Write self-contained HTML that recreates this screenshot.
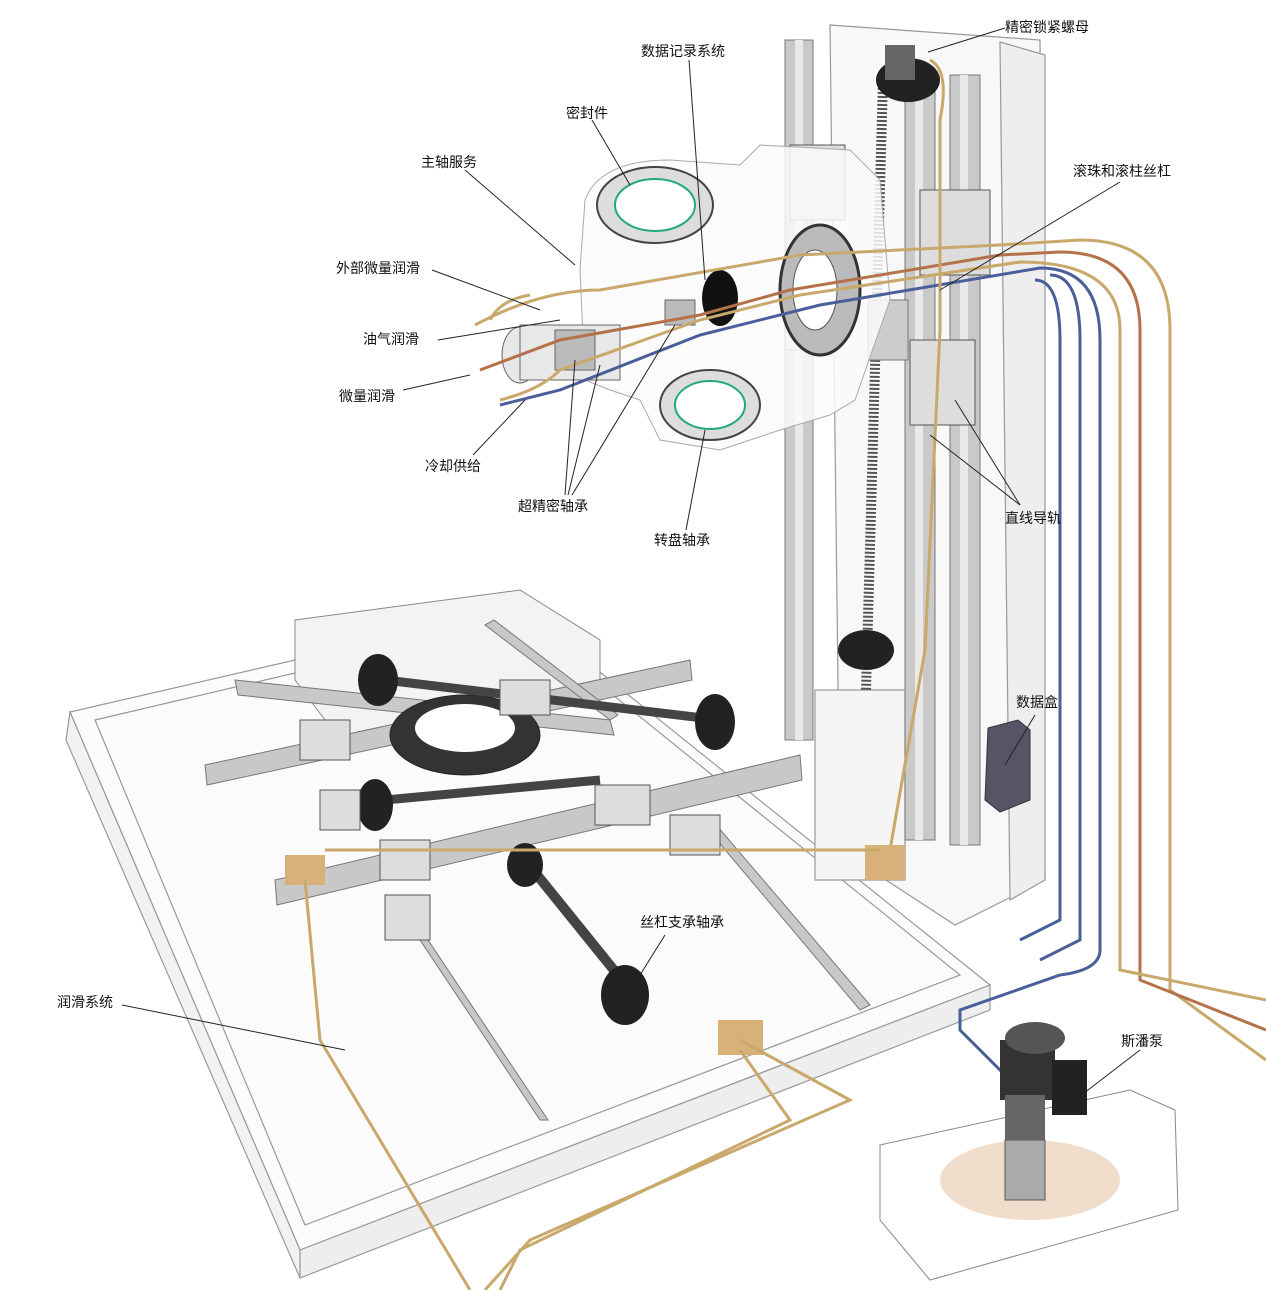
<!DOCTYPE html>
<html><head><meta charset="utf-8"><style>
html,body{margin:0;padding:0;background:#fff;}
svg{display:block;}
text{font-family:"Liberation Sans","Noto Sans CJK SC",sans-serif;font-size:14px;fill:#111;}
</style></head><body>
<svg width="1266" height="1290" viewBox="0 0 1266 1290" xmlns="http://www.w3.org/2000/svg">
<!-- Base plate -->
<g fill="none" stroke="#999" stroke-width="1.2">
<polygon points="70,712 520,608 990,985 300,1250" fill="#fbfbfb"/>
<polygon points="70,712 300,1250 300,1278 66,740" fill="#f2f2f2"/>
<polygon points="300,1250 990,985 990,1010 300,1278" fill="#eee"/>
<polygon points="95,720 520,620 960,975 305,1225"/>
</g>
<!-- Column -->
<g stroke="#999" stroke-width="1.2">
<polygon points="830,25 1040,40 1045,880 955,925 840,850" fill="#f8f8f8"/>
<polygon points="1000,42 1045,55 1045,880 1010,900" fill="#eee"/>
<polygon points="815,690 905,690 905,880 815,880" fill="#f5f5f5"/>
</g>
<!-- Vertical rails -->
<g>
<rect x="785" y="40" width="28" height="700" fill="#c9c9c9" stroke="#777"/>
<rect x="795" y="40" width="8" height="700" fill="#e9e9e9"/>
<rect x="905" y="90" width="30" height="750" fill="#c9c9c9" stroke="#777"/>
<rect x="915" y="90" width="8" height="750" fill="#e9e9e9"/>
<rect x="950" y="75" width="30" height="770" fill="#c9c9c9" stroke="#777"/>
<rect x="960" y="75" width="8" height="770" fill="#e9e9e9"/>
</g>
<!-- ball screw vertical -->
<line x1="883" y1="80" x2="866" y2="690" stroke="#555" stroke-width="10" stroke-dasharray="2 2"/>
<ellipse cx="908" cy="80" rx="32" ry="22" fill="#222"/>
<rect x="885" y="45" width="30" height="35" fill="#666"/>
<ellipse cx="866" cy="650" rx="28" ry="20" fill="#222"/>
<rect x="868" y="300" width="40" height="60" fill="#ccc" stroke="#777"/>
<!-- carriages -->
<g fill="#ddd" stroke="#555">
<rect x="790" y="145" width="55" height="75"/>
<rect x="920" y="190" width="70" height="85"/>
<rect x="910" y="340" width="65" height="85"/>
<rect x="785" y="295" width="35" height="55"/>
</g>
<!-- Head -->
<g stroke="#aaa" fill="#fafafa" fill-opacity="0.85">
<path d="M585,200 Q600,160 670,160 L740,165 L760,145 L850,150 L880,180 L890,300 L855,400 L830,415 L780,430 L720,450 L660,440 L640,400 L610,390 L585,380 L580,270 Z"/>
</g>
<ellipse cx="655" cy="205" rx="58" ry="38" fill="#ddd" stroke="#444" stroke-width="2"/>
<ellipse cx="655" cy="205" rx="40" ry="26" fill="#fff" stroke="#2a7" stroke-width="2"/>
<ellipse cx="710" cy="405" rx="50" ry="35" fill="#ddd" stroke="#444" stroke-width="2"/>
<ellipse cx="710" cy="405" rx="35" ry="24" fill="#fff" stroke="#2a7" stroke-width="2"/>
<ellipse cx="820" cy="290" rx="40" ry="65" fill="#bbb" stroke="#333" stroke-width="3"/>
<ellipse cx="815" cy="290" rx="22" ry="40" fill="#fff" stroke="#555"/>
<ellipse cx="720" cy="298" rx="18" ry="28" fill="#111"/>
<!-- spindle -->
<g fill="#e8e8e8" stroke="#666">
<ellipse cx="520" cy="355" rx="18" ry="28"/>
<rect x="520" y="325" width="100" height="55"/>
<rect x="555" y="330" width="40" height="40" fill="#bbb"/>
<rect x="665" y="300" width="30" height="25" fill="#bbb"/>
</g>
<!-- pipes head -->
<g fill="none" stroke-width="3">
<path d="M475,325 Q540,290 600,290 L800,255 L1000,245 L1080,240 Q1170,240 1170,330 L1170,990 L1266,1060" stroke="#c9a86b"/>
<path d="M480,370 L560,340 L700,315 L790,290 L1000,255 L1060,252 Q1140,252 1140,330 L1140,980 L1266,1030" stroke="#b5724a"/>
<path d="M500,400 Q540,390 560,370 L700,320 L800,295 L1020,262 Q1120,262 1120,330 L1120,970 L1266,1000" stroke="#c9a86b"/>
<path d="M500,405 L560,390 L700,335 L820,305 L1040,268 Q1100,268 1100,340 L1100,950 Q1100,970 1060,975 L960,1010 L960,1030 L1010,1080" stroke="#4a5f99"/>
<path d="M1050,275 Q1080,275 1080,340 L1080,940 L1040,960" stroke="#4a5f99"/>
<path d="M1035,280 Q1060,280 1060,340 L1060,920 L1020,940" stroke="#4a5f99"/>
<path d="M930,60 Q950,70 940,120 L940,330 L925,650 L890,850" stroke="#c9a86b"/>
<path d="M530,295 Q500,300 490,320" stroke="#c9a86b"/>
</g>
<!-- data box -->
<polygon points="988,728 1018,720 1030,730 1030,800 1000,812 985,800" fill="#556" stroke="#334"/>
<!-- XY table -->
<g stroke="#888" fill="#f3f3f3">
<polygon points="295,620 520,590 600,640 600,700 340,740 295,680"/>
</g>
<g fill="#c8c8c8" stroke="#777">
<polygon points="205,765 690,660 692,680 207,785"/>
<polygon points="275,880 800,755 802,780 277,905"/>
<polygon points="235,680 610,720 614,735 238,695"/>
<polygon points="400,910 540,1120 548,1120 408,910" />
<polygon points="700,820 860,1010 870,1005 712,820"/>
<polygon points="485,625 610,720 618,715 494,620"/>
</g>
<ellipse cx="465" cy="735" rx="75" ry="40" fill="#333" stroke="#222"/>
<ellipse cx="465" cy="728" rx="50" ry="24" fill="#fff"/>
<line x1="385" y1="680" x2="720" y2="720" stroke="#444" stroke-width="9"/>
<line x1="385" y1="800" x2="600" y2="780" stroke="#444" stroke-width="9"/>
<line x1="525" y1="860" x2="630" y2="990" stroke="#444" stroke-width="10"/>
<ellipse cx="378" cy="680" rx="20" ry="26" fill="#222"/>
<ellipse cx="715" cy="722" rx="20" ry="28" fill="#222"/>
<ellipse cx="375" cy="805" rx="18" ry="26" fill="#222"/>
<ellipse cx="525" cy="865" rx="18" ry="22" fill="#222"/>
<ellipse cx="625" cy="995" rx="24" ry="30" fill="#222"/>
<g fill="#ddd" stroke="#555">
<rect x="300" y="720" width="50" height="40"/><rect x="500" y="680" width="50" height="35"/>
<rect x="320" y="790" width="40" height="40"/><rect x="595" y="785" width="55" height="40"/>
<rect x="380" y="840" width="50" height="40"/><rect x="670" y="815" width="50" height="40"/>
<rect x="385" y="895" width="45" height="45"/>
</g>
<g fill="#d8b07a"><rect x="285" y="855" width="40" height="30"/><rect x="718" y="1020" width="45" height="35"/><rect x="865" y="845" width="40" height="35"/></g>
<!-- base pipes -->
<g fill="none" stroke="#c9a86b" stroke-width="3">
<path d="M305,880 L320,1040 L470,1290"/>
<path d="M740,1050 L790,1120 L520,1250 L500,1290"/>
<path d="M740,1040 L850,1100 L530,1240 L485,1290"/>
<path d="M325,850 L880,850"/>
</g>
<!-- pump -->
<g stroke="#888" fill="#fff" fill-opacity="0.6">
<polygon points="880,1145 1130,1090 1175,1110 1178,1210 930,1280 880,1220"/>
</g>
<ellipse cx="1030" cy="1180" rx="90" ry="40" fill="#e8c6a8" opacity="0.6"/>
<rect x="1005" y="1140" width="40" height="60" fill="#aaa" stroke="#555"/>
<rect x="1000" y="1040" width="55" height="60" fill="#333"/>
<rect x="1052" y="1060" width="35" height="55" fill="#222"/>
<ellipse cx="1035" cy="1038" rx="30" ry="16" fill="#555"/>
<rect x="1005" y="1095" width="40" height="45" fill="#666"/>
<!-- leader lines -->
<g stroke="#222" stroke-width="1" fill="none">
<line x1="1005" y1="28" x2="928" y2="52"/>
<line x1="689" y1="60" x2="705" y2="280"/>
<line x1="592" y1="120" x2="630" y2="185"/>
<line x1="465" y1="170" x2="575" y2="265"/>
<line x1="432" y1="270" x2="540" y2="310"/>
<line x1="438" y1="340" x2="560" y2="320"/>
<line x1="403" y1="390" x2="470" y2="375"/>
<line x1="473" y1="455" x2="525" y2="400"/>
<line x1="565" y1="495" x2="575" y2="360"/>
<line x1="568" y1="495" x2="600" y2="365"/>
<line x1="572" y1="495" x2="675" y2="325"/>
<line x1="686" y1="530" x2="705" y2="430"/>
<line x1="1120" y1="182" x2="940" y2="290"/>
<line x1="1020" y1="505" x2="955" y2="400"/>
<line x1="1020" y1="505" x2="930" y2="435"/>
<line x1="1035" y1="715" x2="1005" y2="765"/>
<line x1="665" y1="935" x2="640" y2="975"/>
<line x1="122" y1="1005" x2="345" y2="1050"/>
<line x1="1140" y1="1050" x2="1075" y2="1100"/>
</g>
<!-- labels -->
<text x="1005" y="32">精密锁紧螺母</text>
<text x="641" y="56">数据记录系统</text>
<text x="566" y="118">密封件</text>
<text x="421" y="167">主轴服务</text>
<text x="336" y="273">外部微量润滑</text>
<text x="363" y="344">油气润滑</text>
<text x="339" y="401">微量润滑</text>
<text x="425" y="471">冷却供给</text>
<text x="518" y="511">超精密轴承</text>
<text x="654" y="545">转盘轴承</text>
<text x="1073" y="176">滚珠和滚柱丝杠</text>
<text x="1005" y="523">直线导轨</text>
<text x="1016" y="707">数据盒</text>
<text x="640" y="927">丝杠支承轴承</text>
<text x="57" y="1007">润滑系统</text>
<text x="1121" y="1046">斯潘泵</text>
</svg>
</body></html>
